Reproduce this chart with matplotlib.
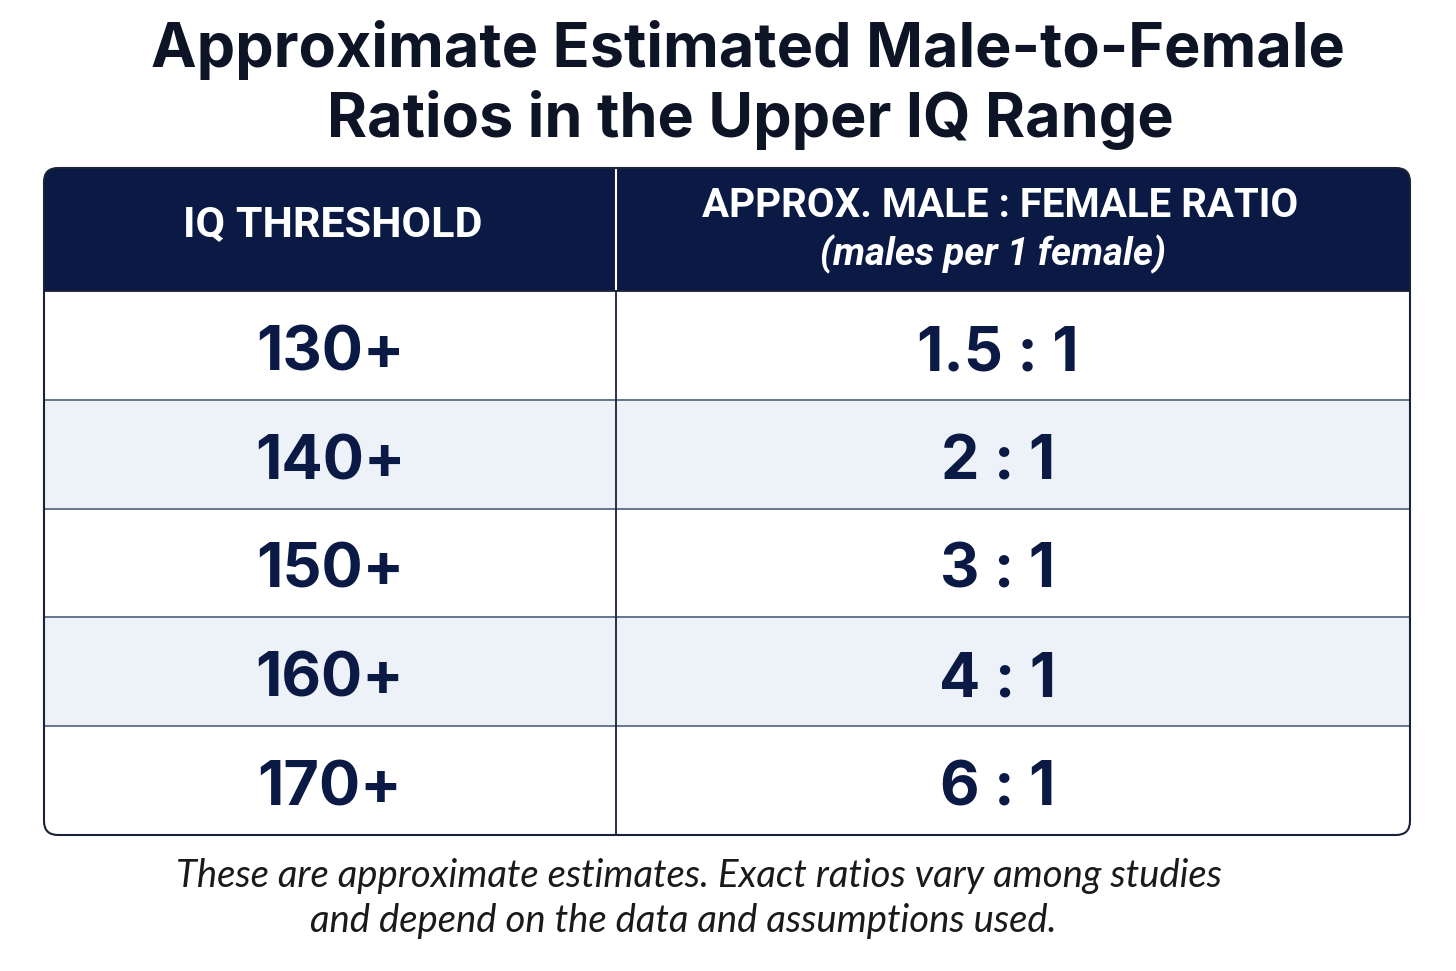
import matplotlib
matplotlib.use("Agg")
import matplotlib.pyplot as plt
from matplotlib.patches import FancyBboxPatch, Rectangle

# table content
title_lines = ["Approximate Estimated Male-to-Female", "Ratios in the Upper IQ Range"]
col_headers = ["IQ THRESHOLD", "APPROX. MALE : FEMALE RATIO"]
col_subheader = "(males per 1 female)"
thresholds = ["130+", "140+", "150+", "160+", "170+"]
ratios = ["1.5 : 1", "2 : 1", "3 : 1", "4 : 1", "6 : 1"]
footnote = ["These are approximate estimates. Exact ratios vary among studies",
            "and depend on the data and assumptions used."]

NAVY = "#0b1a45"
ALT = "#edf2f8"
RULE = "#5a6b85"
W, H = 1456, 971

fig = plt.figure(figsize=(W / 100, H / 100), dpi=100)
ax = fig.add_axes([0, 0, 1, 1])
ax.set_xlim(0, W)
ax.set_ylim(H, 0)
ax.axis("off")
fig.patch.set_facecolor("white")

# table geometry (pixels)
left, right, top = 44, 1410, 168
head_bot = 291
bottom = 835
split = 616
radius = 14
row_h = (bottom - head_bot) / len(thresholds)

# header block with rounded top corners
ax.add_patch(FancyBboxPatch((left + radius, top + radius), right - left - 2 * radius,
                            head_bot - top - 2 * radius,
                            boxstyle=f"round,pad={radius}", fc=NAVY, ec="none", zorder=1))
ax.add_patch(Rectangle((left, top + 40), right - left, head_bot - top - 40, fc=NAVY, ec="none", zorder=1))

# body rows
for i, (th, ra) in enumerate(zip(thresholds, ratios)):
    y0 = head_bot + i * row_h
    if i % 2 == 1:
        ax.add_patch(Rectangle((left, y0), right - left, row_h, fc=ALT, ec="none", zorder=1))
    if i > 0:
        ax.plot([left, right], [y0, y0], color=RULE, lw=1.3, zorder=2)
    yc = y0 + row_h / 2 + 9
    ax.text((left + split) / 2, yc, th, ha="center", va="center", fontsize=44,
            fontweight="bold", family="Inter", color=NAVY, zorder=3)
    ax.text(998, yc, ra, ha="center", va="center", fontsize=44,
            fontweight="bold", family="Inter", color=NAVY, zorder=3)

# column divider
ax.plot([split, split], [top, head_bot], color="white", lw=1.5, zorder=2)
ax.plot([split, split], [head_bot, bottom], color="#1a2238", lw=1.3, zorder=2)
ax.plot([left, right], [head_bot, head_bot], color="#1a2238", lw=1.3, zorder=2)

# outline
ax.add_patch(FancyBboxPatch((left + radius, top + radius), right - left - 2 * radius,
                            bottom - top - 2 * radius,
                            boxstyle=f"round,pad={radius}", fc="none", ec="#1a2238",
                            lw=1.5, zorder=4))

# header text
ax.text(333, 226, col_headers[0], ha="center", va="center", fontsize=31,
        fontweight="bold", family="Roboto", color="white", zorder=3)
ax.text(1000, 206, col_headers[1], ha="center", va="center", fontsize=29,
        fontweight="bold", family="Roboto", color="white", zorder=3)
ax.text(993, 254, col_subheader, ha="center", va="center", fontsize=27.5,
        fontweight="bold", style="italic", family="Roboto", color="white", zorder=3)

# title
ax.text(748, 50, title_lines[0], ha="center", va="center", fontsize=44,
        fontweight="bold", family="Inter", color="#0d1426")
ax.text(750, 120, title_lines[1], ha="center", va="center", fontsize=44,
        fontweight="bold", family="Inter", color="#0d1426")

# footnote
ax.text(699, 876, footnote[0], ha="center", va="center", fontsize=27.5,
        style="italic", family="Lato", color="#1a1a1a")
ax.text(683, 921, footnote[1], ha="center", va="center", fontsize=27.5,
        style="italic", family="Lato", color="#1a1a1a")

fig.savefig("out.png", dpi=100, facecolor="white")
